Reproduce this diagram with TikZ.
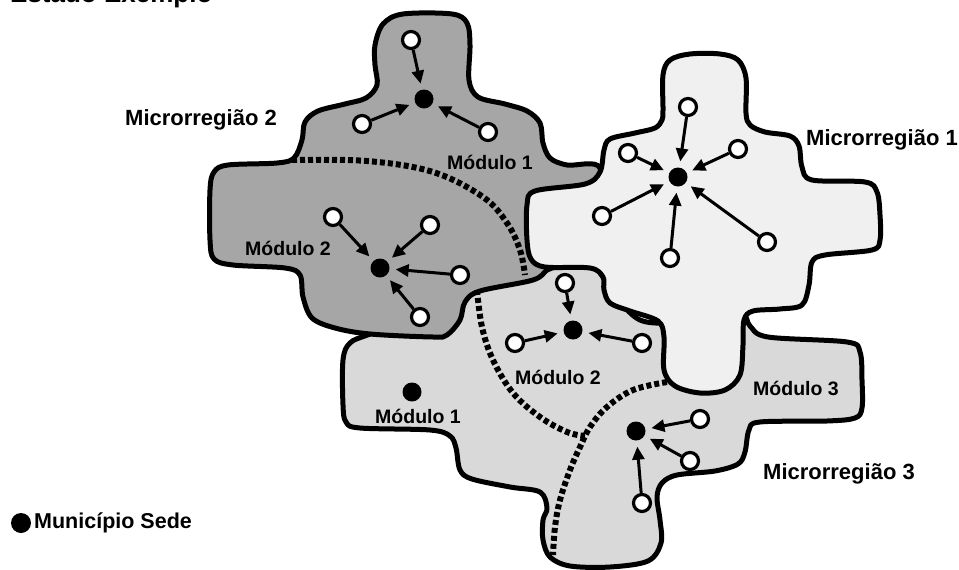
\documentclass[tikz,border=0pt]{standalone}
\usepackage{fontspec}
\setmainfont{Liberation Sans}
\usetikzlibrary{arrows.meta}
\definecolor{mrdark}{HTML}{A6A6A6}
\definecolor{mrmid}{HTML}{D9D9D9}
\definecolor{mrlight}{HTML}{F0F0F0}
\tikzset{
  region/.style={draw=black, line width=5pt, line join=round},
  modline/.style={line width=6pt, dash pattern=on 5pt off 3pt},
  town/.style={circle, draw=black, fill=white, line width=3.2pt, minimum size=17pt, inner sep=0pt},
  seat/.style={circle, fill=black, minimum size=19pt, inner sep=0pt},
  flow/.style={line width=3pt, -{Triangle[length=13pt,width=12pt]}, shorten >=6pt},
  modlabel/.style={font=\bfseries\fontsize{19.5}{22}\selectfont},
  mrlabel/.style={font=\bfseries\fontsize{22}{25}\selectfont},
}
\begin{document}
\begin{tikzpicture}[x=1pt, y=-1pt]
\useasboundingbox (0,0) rectangle (959,570);
\fill[white] (0,0) rectangle (959,570);
% title (cut off by the top edge)
\begin{scope}
\clip (0,0) rectangle (959,570);
\node[anchor=base west, inner sep=0pt, font=\bfseries\fontsize{26}{28}\selectfont] (title) at (10,2.5) {Estado Exemplo};
\end{scope}
% Microrregiao 3
\filldraw[region, fill=mrmid] plot[smooth cycle, tension=0.55] coordinates {
 (343,360) (350,343) (370,334) (440,308) (470,284) (505,272) (547,263) (570,262) (595,265)
 (603,277) (640,320) (700,320) (741,314) (750,326) (768,337) (847,342) (860,352)
 (862,380) (862,408) (855,418) (827,421) (760,422) (749,430) (745,452) (738,464)
 (715,471) (677,475) (662,483) (657,497) (660,520) (661,543) (648,561) (610,567)
 (570,566) (550,557) (543,540) (543,520) (547,508) (540,492) (510,487) (472,479)
 (460,470) (456,448) (450,436) (430,430) (360,428) (346,422) (343,405)};
% Microrregiao 2
\filldraw[region, fill=mrdark] plot[smooth cycle, tension=0.55] coordinates {
 (375,45) (383,24) (403,14) (452,14) (467,23) (470,45) (469,80) (478,97) (505,104)
 (527,111) (540,123) (543,143) (550,158) (567,165) (600,168) (590,220) (560,262)
 (547,270) (533,280) (480,291) (465,302) (460,320) (447,335) (433,337) (370,334)
 (335,328) (312,318) (303,297) (300,275) (285,268) (233,265) (214,259) (210,240)
 (210,190) (214,172) (228,165) (277,163) (294,158) (302,140) (305,122) (318,111)
 (345,104) (366,98) (377,85) (375,65)};
% Microrregiao 1
\filldraw[region, fill=mrlight] plot[smooth cycle, tension=0.55] coordinates {
 (663,110) (663,75) (670,60) (690,54) (720,54) (738,60) (746,78) (746,113) (750,125)
 (765,132) (790,136) (799,146) (802,167) (812,180) (865,182) (877,192) (880,215)
 (880,240) (872,250) (825,255) (812,262) (809,285) (802,305) (780,309) (753,311)
 (744,320) (743,345) (740,375) (725,390) (700,393) (675,386) (664,370) (664,337)
 (658,321) (630,311) (610,303) (604,290) (603,277) (590,268) (545,267) (531,259)
 (527,240) (527,205) (535,191) (585,184) (600,172) (604,150) (610,139) (635,133)
 (655,128) (662,120)};
% module boundaries
\draw[modline] plot[smooth, tension=0.6] coordinates {(292,160) (367,161) (433,172) (483,197) (507,223) (520,250) (525,275)};
\draw[modline] plot[smooth, tension=0.6] coordinates {(477,290) (482,327) (493,360) (513,393) (540,417) (567,432) (585,436)};
\draw[modline] plot[smooth, tension=0.6] coordinates {(667,382) (633,390) (607,407) (590,427) (580,447) (570,470) (560,500) (555,527) (553,555)};
% Microrregiao 2, Modulo 1
\node[seat] (s21) at (424,99) {};
\node[town] (t21a) at (411,40) {};
\node[town] (t21b) at (362,124) {};
\node[town] (t21c) at (488,132) {};
\draw[flow] (t21a) -- (s21);
\draw[flow] (t21b) -- (s21);
\draw[flow] (t21c) -- (s21);
% Microrregiao 2, Modulo 2
\node[seat] (s22) at (380,268) {};
\node[town] (t22a) at (333,217) {};
\node[town] (t22b) at (430,225) {};
\node[town] (t22c) at (460,275) {};
\node[town] (t22d) at (420,317) {};
\draw[flow] (t22a) -- (s22);
\draw[flow] (t22b) -- (s22);
\draw[flow] (t22c) -- (s22);
\draw[flow] (t22d) -- (s22);
% Microrregiao 1
\node[seat] (s1) at (678,177) {};
\node[town] (t1a) at (688,107) {};
\node[town] (t1b) at (628,153) {};
\node[town] (t1c) at (738,149) {};
\node[town] (t1d) at (602,216) {};
\node[town] (t1e) at (670,258) {};
\node[town] (t1f) at (767,242) {};
\draw[flow] (t1a) -- (s1);
\draw[flow] (t1b) -- (s1);
\draw[flow] (t1c) -- (s1);
\draw[flow] (t1d) -- (s1);
\draw[flow] (t1e) -- (s1);
\draw[flow] (t1f) -- (s1);
% Microrregiao 3, Modulo 2
\node[seat] (s32) at (573,330) {};
\node[town] (t32a) at (565,283) {};
\node[town] (t32b) at (515,343) {};
\node[town] (t32c) at (642,343) {};
\draw[flow] (t32a) -- (s32);
\draw[flow] (t32b) -- (s32);
\draw[flow] (t32c) -- (s32);
% Microrregiao 3, Modulo 1
\node[seat] (s31) at (412,392) {};
% Microrregiao 3, Modulo 3
\node[seat] (s33) at (636,431) {};
\node[town] (t33a) at (700,419) {};
\node[town] (t33b) at (690,461) {};
\node[town] (t33c) at (642,503) {};
\draw[flow] (t33a) -- (s33);
\draw[flow] (t33b) -- (s33);
\draw[flow] (t33c) -- (s33);
% labels
\node[mrlabel] (lmr2) at (201,120) {Microrregião 2};
\node[mrlabel] (lmr1) at (882,140) {Microrregião 1};
\node[mrlabel] (lmr3) at (839,474) {Microrregião 3};
\node[modlabel] (lm21) at (490,162) {Módulo 1};
\node[modlabel] (lm22) at (288,248) {Módulo 2};
\node[modlabel] (lm32) at (558,377) {Módulo 2};
\node[modlabel] (lm31) at (418,416) {Módulo 1};
\node[modlabel] (lm33) at (796,388) {Módulo 3};
% legend
\node[seat, minimum size=20pt] (legdot) at (21,523) {};
\node[font=\bfseries\fontsize{21.5}{24}\selectfont, anchor=west, inner sep=0pt] (legtext) at (34,523) {Município Sede};
\end{tikzpicture}
\end{document}
